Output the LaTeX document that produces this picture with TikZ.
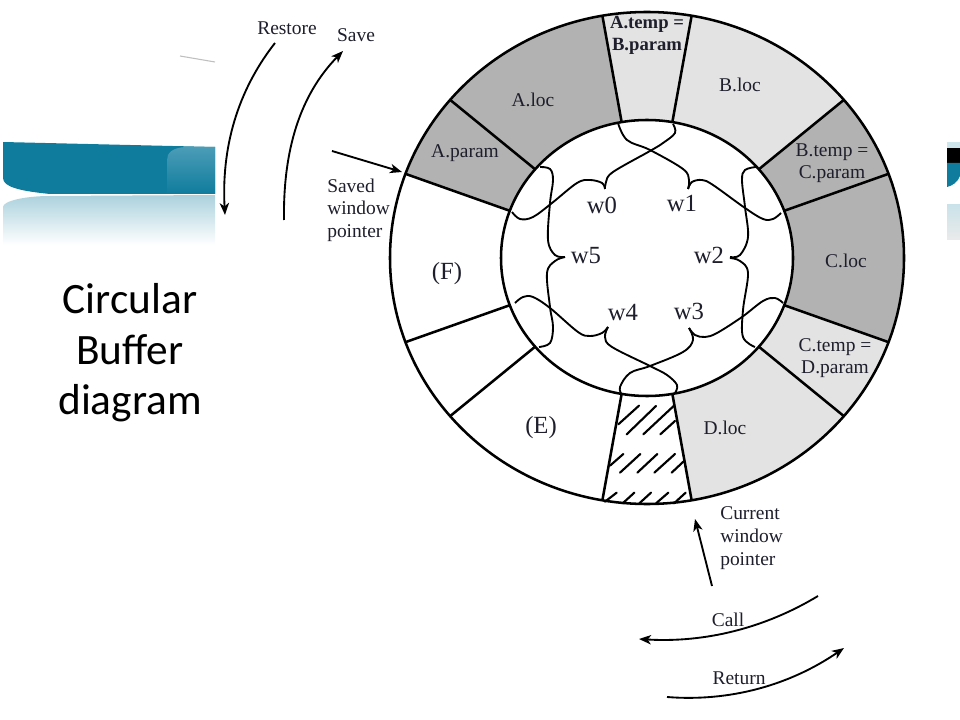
\documentclass[tikz,border=0pt]{standalone}
\usepackage{fontspec}
\usetikzlibrary{arrows.meta}
\setmainfont{Liberation Serif}
\newfontfamily\titlefont{Carlito}
\definecolor{dark}{HTML}{B2B2B2}
\definecolor{light}{HTML}{E3E3E3}
\definecolor{ink}{HTML}{1E1E2C}
\definecolor{teal}{HTML}{0F7C9E}
\tikzset{
    lab/.style={text=ink, font=\fontsize{14.6}{16}\selectfont, align=center, inner sep=0pt},
    bold/.style={lab, font=\fontsize{14}{16}\selectfont\bfseries},
    win/.style={lab, font=\fontsize{18.5}{20}\selectfont},
    side/.style={lab, align=left, font=\fontsize{14.6}{17}\selectfont},
    ring/.style={line width=1.9pt, black},
    brace/.style={line width=1.4pt, black},
    hatch/.style={line width=1.6pt, black, line cap=round},
    arrow/.style={line width=1.4pt, black, -{Stealth[length=9pt, width=7pt, inset=2.5pt]}},
}
\begin{document}
\begin{tikzpicture}[x=0.75pt, y=-0.75pt]
    \useasboundingbox (0,0) rectangle (960,720);

    % Slide background
    \draw[lightgray, line width=0.8pt] (180,56) -- (215,62);
    \fill[teal] (3,142) -- (215,147) -- (215,194) -- (50,194) .. controls (20,191) and (3,187) .. (3,178) -- cycle;
    \shade[top color=teal!75!white, bottom color=teal] (215,147) -- (185,147) .. controls (172,148) and (167,153) .. (167,160) -- (167,194) -- (215,194) -- cycle;
    \shade[top color=teal!35!white, bottom color=white] (3,207) .. controls (3,201) and (25,196) .. (50,196) -- (215,195) -- (215,245) -- (3,245) -- cycle;
    \fill[teal!20!white] (947,142) rectangle (960,148);
    \fill[black] (947,148) rectangle (960,163);
    \fill[teal] (947,163) -- (960,163) -- (960,176) .. controls (958,182) and (952,186) .. (947,187) -- cycle;
    \shade[top color=teal!22!white, bottom color=black!8] (947,205) -- (960,205) -- (960,240) -- (947,240) -- cycle;

    % Sectors
    \begin{scope}[shift={(647,258)}]
        \foreach \from/\to/\col in {-100/-40/light, -40/20/dark, 20/80/light, 200/260/dark} {
            \fill[\col] plot[domain=\from:\to, samples=40] ({257*cos(\x)}, {246*sin(\x)})
                -- plot[domain=\to:\from, samples=40] ({146*cos(\x)}, {138*sin(\x)}) -- cycle;
        }
        \draw[ring] (0,0) ellipse (257 and 246);
        \draw[ring] (0,0) ellipse (146 and 138);
        \foreach \a in {20,40,80,100,140,160,200,220,260,280,320,340} {
            \draw[ring] ({146*cos(\a)}, {138*sin(\a)}) -- ({257*cos(\a)}, {246*sin(\a)});
        }
    \end{scope}

    % Hatching
    \foreach \xa/\ya/\xb/\yb in {70/88/132/32, 95/118/183/33, 145/118/236/33, 196/118/240/78,
        45/212/85/177, 75/233/136/177, 127/233/187/177, 178/233/240/177, 230/233/265/200,
        30/320/65/293, 83/325/118/293, 133/325/168/293, 183/325/220/293, 237/325/272/293} {
        \draw[hatch] ({595+\xa/3}, {395+\ya/3}) -- ({595+\xb/3}, {395+\yb/3});
    }

    % Braces
    \draw[brace] plot[smooth, tension=0.6] coordinates {(605,189) (602,183) (590,180) (577,183) (552,203) (533,217) (520,219) (512,212)};
    \draw[brace] plot[smooth, tension=0.6] coordinates {(605,189) (606,182) (613,172) (650,151) (663,143) (675,133) (673,124)};
    \draw[brace] plot[smooth, tension=0.6] coordinates {(688,189) (689,180) (683,169) (650,150) (627,140) (618,123)};
    \draw[brace] plot[smooth, tension=0.6] coordinates {(688,189) (692,182) (702,180) (713,185) (745,208) (763,219) (773,219) (781,213)};
    \draw[brace] plot[smooth, tension=0.6] coordinates {(565,257) (555,255) (548,240) (550,203) (553,180) (550,169) (540,167)};
    \draw[brace] plot[smooth, tension=0.6] coordinates {(565,257) (555,261) (547,273) (550,307) (553,327) (550,343) (539,347)};
    \draw[brace] plot[smooth, tension=0.6] coordinates {(608,327) (602,333) (590,336) (578,332) (550,308) (533,297) (523,297) (515,303)};
    \draw[brace] plot[smooth, tension=0.6] coordinates {(608,327) (605,337) (612,347) (650,366) (667,375) (677,385) (675,393)};
    \draw[brace] plot[smooth, tension=0.6] coordinates {(689,328) (693,340) (683,352) (650,366) (630,373) (620,387) (622,395)};
    \draw[brace] plot[smooth, tension=0.6] coordinates {(689,328) (695,335) (705,337) (717,333) (742,317) (763,301) (775,298) (783,303)};
    \draw[brace] plot[smooth, tension=0.6] coordinates {(730,257) (740,255) (748,237) (745,207) (742,180) (745,170) (756,167)};
    \draw[brace] plot[smooth, tension=0.6] coordinates {(730,258) (740,261) (748,273) (743,310) (743,337) (755,347)};

    % Ring labels
    \node[bold] (atemp) at (647,24) {A.temp =};
    \node[bold] (bparam) at (647,46) {B.param};
    \node[lab] (aloc) at (533,100) {A.loc};
    \node[lab] (bloc) at (740,85) {B.loc};
    \node[lab] (apar) at (465,153) {A.param};
    \node[lab] (btemp) at (832,152) {B.temp =};
    \node[lab] (cparam) at (832,174) {C.param};
    \node[lab] (cloc) at (846,261) {C.loc};
    \node[lab] (ctemp) at (835,347) {C.temp =};
    \node[lab] (dparam) at (835,369) {D.param};
    \node[lab] (dloc) at (725,428) {D.loc};
    \node[win] (e) at (541,428) {(E)};
    \node[win] (f) at (447,274) {(F)};

    % Windows
    \node[win] (w0) at (602,205) {w0};
    \node[win] (w1) at (682,203) {w1};
    \node[win] (w2) at (709,255) {w2};
    \node[win] (w3) at (689,311) {w3};
    \node[win] (w4) at (623,313) {w4};
    \node[win] (w5) at (586,256) {w5};

    % Outside labels
    \node[lab] (restore) at (287,28) {Restore};
    \node[lab] (save) at (356,35) {Save};
    \node[side, anchor=west] (saved) at (327,210) {Saved\\window\\pointer};
    \node[side, anchor=west] (current) at (720,538) {Current\\window\\pointer};
    \node[lab] (call) at (728,620) {Call};
    \node[lab] (return) at (739,678) {Return};
    \node[text=black, align=center, font=\titlefont\fontsize{32.5}{38}\selectfont] (title) at (130,353) {Circular\\Buffer\\diagram};

    % Arrows
    \coordinate (restoreA) at (275,43);
    \coordinate (restoreB) at (225,215);
    \coordinate (saveA) at (284,220);
    \coordinate (saveB) at (343,51);
    \coordinate (savedA) at (332,151);
    \coordinate (savedB) at (402,172);
    \coordinate (currentA) at (712,586);
    \coordinate (currentB) at (695,519);
    \coordinate (callA) at (818,596);
    \coordinate (callB) at (639,639);
    \coordinate (returnA) at (667,697);
    \coordinate (returnB) at (844,648);
    \draw[arrow] (restoreA) .. controls (242,85) and (221,140) .. (restoreB);
    \draw[arrow] (saveA) .. controls (283,150) and (300,95) .. (saveB);
    \draw[arrow] (savedA) -- (savedB);
    \draw[arrow] (currentA) -- (currentB);
    \draw[arrow] (callA) .. controls (765,628) and (705,643) .. (callB);
    \draw[arrow] (returnA) .. controls (730,702) and (790,685) .. (returnB);
\end{tikzpicture}
\end{document}
